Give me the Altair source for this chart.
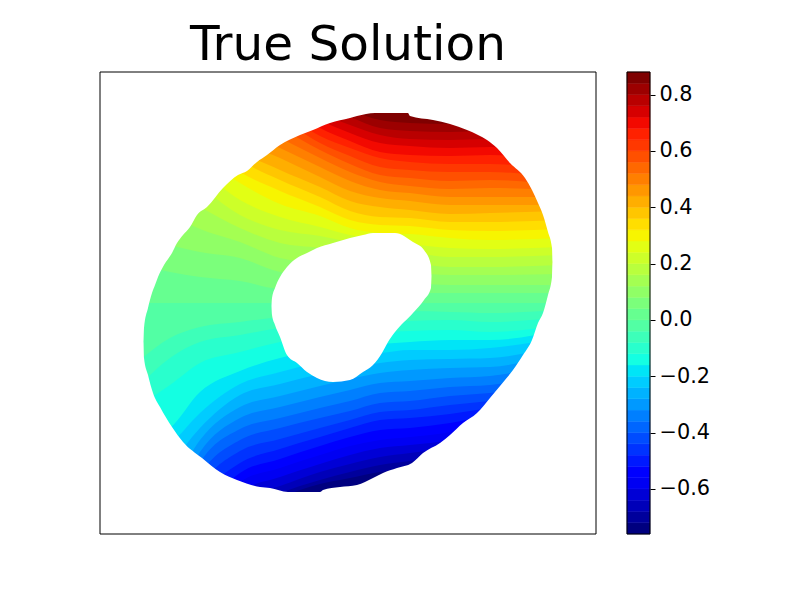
import altair as alt
import pandas as pd

title_text = "True Solution"
band_colors = [
    "#00007f", "#00009c", "#0000b9", "#0000d6", "#0000f3", "#0000ff", "#0019ff", "#0033ff", "#004cff", "#0066ff",
    "#007fff", "#0099ff", "#00b2ff", "#00ccff", "#00e5f7", "#14ffe2", "#29ffcd", "#3dffb9", "#52ffa4", "#66ff90",
    "#7bff7b", "#90ff66", "#a4ff52", "#b9ff3d", "#cdff29", "#e2ff14", "#f7f500", "#ffde00", "#ffc600", "#ffae00",
    "#ff9700", "#ff7f00", "#ff6800", "#ff5000", "#ff3800", "#ff2100", "#f30900", "#d60000", "#b90000", "#9c0000",
    "#7f0000",
]
band_low = [-0.76 + 0.04 * i for i in range(41)]
band_high = [-0.72 + 0.04 * i for i in range(41)]
colorbar_ticks = [-0.6, -0.4, -0.2, 0.0, 0.2, 0.4, 0.6, 0.8]
plot_top = 72
plot_bottom = 534

# Contour positions: one row per contour, one value per column.
contour_x = [140, 170, 200, 240, 280, 320, 350, 380, 410, 450, 490, 560]
contour_rows = [
    [650, 620, 580, 520, 498, 484, 478, 472, 470, 464, 453, 445],
    [640, 610, 570, 510, 493, 480, 472, 465, 461, 456, 445, 437],
    [630, 600, 560, 500, 486, 472, 464, 457, 453, 448, 438, 430],
    [620, 590, 550, 492, 477, 464, 455, 448, 445, 440, 430, 423],
    [610, 580, 530, 482, 468, 455, 446, 440, 437, 432, 422, 415],
    [600, 570, 515, 473, 459, 446, 437, 430, 428, 423, 415, 408],
    [590, 560, 500, 463, 449, 437, 428, 420, 418, 414, 408, 400],
    [580, 550, 487, 451, 439, 428, 420, 412, 410, 405, 401, 392],
    [570, 540, 475, 440, 428, 418, 411, 403, 401, 396, 393, 382],
    [560, 530, 463, 429, 418, 408, 401, 393, 391, 387, 385, 372],
    [545, 510, 452, 418, 407, 397, 390, 383, 381, 378, 376, 362],
    [530, 490, 440, 407, 396, 386, 379, 373, 370, 368, 367, 352],
    [500, 465, 428, 395, 384, 374, 368, 363, 360, 359, 358, 345],
    [470, 445, 413, 384, 372, 362, 355, 353, 350, 350, 348, 338],
    [440, 428, 392, 371, 358, 350, 345, 344, 342, 340, 340, 330],
    [405, 385, 363, 352, 342, 336, 332, 332, 331, 330, 332, 325],
    [385, 358, 342, 335, 328, 325, 322, 322, 321, 320, 322, 317],
    [360, 338, 327, 322, 317, 315, 313, 312, 311, 312, 313, 310],
    [303, 303, 303, 303, 303, 303, 303, 303, 303, 303, 303, 303],
    [265, 272, 277, 281, 289, 290, 291, 292, 293, 293, 293, 293],
    [235, 245, 252, 258, 272, 276, 279, 281, 283, 285, 285, 285],
    [205, 215, 229, 242, 258, 263, 266, 268, 272, 275, 275, 274],
    [175, 190, 207, 228, 243, 248, 253, 258, 262, 267, 267, 265],
    [150, 170, 187, 215, 230, 236, 242, 247, 252, 257, 257, 255],
    [130, 150, 170, 200, 217, 227, 235, 240, 244, 248, 249, 247],
    [110, 130, 155, 183, 204, 216, 228, 233, 234, 238, 240, 238],
    [95, 115, 142, 172, 191, 207, 220, 225, 226, 230, 231, 229],
    [80, 100, 128, 160, 180, 197, 211, 217, 218, 222, 222, 220],
    [65, 85, 115, 150, 170, 187, 201, 207, 210, 214, 213, 211],
    [50, 70, 102, 140, 158, 177, 191, 198, 201, 205, 205, 205],
    [40, 60, 90, 130, 148, 167, 181, 190, 193, 197, 197, 197],
    [30, 50, 80, 120, 138, 158, 172, 182, 186, 189, 188, 190],
    [25, 40, 70, 110, 128, 150, 164, 175, 178, 181, 180, 185],
    [20, 30, 60, 100, 118, 143, 156, 167, 170, 172, 172, 178],
    [15, 25, 50, 90, 110, 136, 148, 158, 162, 164, 164, 170],
    [10, 20, 40, 80, 102, 128, 141, 152, 155, 156, 155, 162],
    [5, 15, 30, 70, 95, 120, 133, 143, 146, 148, 147, 155],
    [5, 10, 20, 60, 85, 113, 125, 135, 139, 140, 139, 148],
    [0, 5, 10, 50, 75, 105, 117, 128, 131, 132, 131, 140],
    [0, 0, 5, 40, 65, 97, 110, 120, 123, 124, 122, 130],
]
floor_row = [540] * len(contour_x)

# Outline of the region.
upper_x = [100, 143.5, 144, 148, 152, 155, 158, 164, 172, 177, 183, 190, 197, 207, 223, 238, 247, 257, 267, 280,
           300, 313, 330, 350, 357, 375, 408, 410, 433, 450, 467, 478, 487, 497, 510, 525, 532, 538, 543, 548,
           552, 552.5, 596]
upper_y = [342, 342, 328, 308, 293, 285, 277, 265, 253, 243, 235, 227, 215, 207, 188, 175, 171, 162, 155, 145,
           135, 130, 123, 118, 116, 113, 113, 116, 120, 124, 130, 135, 140, 148, 163, 178, 190, 203, 215, 232,
           248, 262, 262]
lower_x = [100, 143.5, 144, 148, 153, 160, 172, 183, 202, 220, 237, 260, 270, 288, 320, 323, 340, 357, 373, 383,
           397, 412, 423, 440, 450, 463, 477, 490, 505, 513, 523, 532, 538, 543, 548, 552, 552.5, 596]
lower_y = [342, 342, 358, 375, 393, 407, 427, 442, 458, 472, 480, 487, 488, 492, 492, 490, 487, 485, 478, 473,
           468, 463, 453, 443, 435, 423, 413, 398, 380, 370, 355, 340, 323, 313, 295, 277, 262, 262]
hole_x = [271.5, 272, 275, 280, 287, 297, 307, 317, 333, 350, 363, 373, 382, 388, 395, 413, 424, 431, 431.5]
hole_top = [306, 298, 288, 277, 267, 258, 253, 248, 243, 238, 235, 233, 233, 233, 233, 242, 250, 265, 276]
hole_bottom = [306, 315, 325, 337, 355, 363, 372, 378, 382, 380, 372, 365, 353, 342, 332, 313, 300, 288, 276]

x_enc = alt.X("x:Q", scale=alt.Scale(domain=[100, 596], nice=False, zero=False), axis=None)
y_enc = alt.Y("y:Q", scale=alt.Scale(domain=[plot_top, plot_bottom], reverse=True, nice=False, zero=False), axis=None)


def band_layer(row, color):
    frame = pd.DataFrame({"x": contour_x, "y": row, "y2": [plot_top] * len(row)})
    return alt.Chart(frame).mark_area(clip=True, interpolate="monotone", color=color).encode(
        x=x_enc, y=y_enc, y2="y2:Q"
    )


layers = [band_layer(floor_row, band_colors[0])]
for row, color in zip(contour_rows, band_colors[1:]):
    layers.append(band_layer(row, color))

top_mask = alt.Chart(pd.DataFrame({"x": upper_x, "y": upper_y, "y2": [plot_top] * len(upper_x)})).mark_area(
    clip=True, color="white", interpolate="monotone"
).encode(x=x_enc, y=y_enc, y2="y2:Q")
bottom_mask = alt.Chart(pd.DataFrame({"x": lower_x, "y": lower_y, "y2": [plot_bottom] * len(lower_x)})).mark_area(
    clip=True, color="white", interpolate="monotone"
).encode(x=x_enc, y=y_enc, y2="y2:Q")
hole_mask = alt.Chart(pd.DataFrame({"x": hole_x, "y": hole_top, "y2": hole_bottom})).mark_area(
    clip=True, color="white", interpolate="monotone"
).encode(x=x_enc, y=y_enc, y2="y2:Q")
frame_box = alt.Chart(pd.DataFrame({"a": [0]})).mark_rect(
    filled=False, stroke="black", strokeWidth=1
).encode(x=alt.value(0), x2=alt.value(496), y=alt.value(0), y2=alt.value(462))

main = alt.layer(*layers, top_mask, bottom_mask, hole_mask, frame_box).properties(
    width=496,
    height=462,
    title=alt.TitleParams(
        title_text, font="DejaVu Sans", fontSize=48.5, fontWeight="normal", color="black",
        anchor="middle", offset=14.5, dy=13.5,
    ),
)

bar_frame = pd.DataFrame({"low": band_low, "high": band_high, "color": band_colors})
bar = alt.Chart(bar_frame).mark_rect(strokeWidth=0.5).encode(
    x=alt.value(0),
    x2=alt.value(23),
    y=alt.Y(
        "low:Q",
        scale=alt.Scale(domain=[-0.76, 0.88], nice=False, zero=False),
        axis=alt.Axis(
            orient="right", values=colorbar_ticks, grid=False, domain=False, title=None,
            tickColor="black", tickSize=5, tickWidth=1, labelColor="black", labelFont="DejaVu Sans",
            labelFontSize=20.83, labelPadding=4,
            labelExpr="replace(format(datum.value, '.1f'), '-', '\u2212')",
        ),
    ),
    y2="high:Q",
    color=alt.Color("color:N", scale=None),
    stroke=alt.Stroke("color:N", scale=None),
)
bar_box = alt.Chart(pd.DataFrame({"a": [0]})).mark_rect(
    filled=False, stroke="black", strokeWidth=1
).encode(x=alt.value(0), x2=alt.value(23), y=alt.value(0), y2=alt.value(462))
colorbar = alt.layer(bar, bar_box).properties(width=23, height=462)

chart = alt.hconcat(main, colorbar, spacing=29).properties(
    padding={"left": 91, "top": 13, "right": 0, "bottom": 0}, background="white"
).configure_view(stroke=None)

chart.save("out.html", embed_options={"renderer": "svg", "actions": False})
